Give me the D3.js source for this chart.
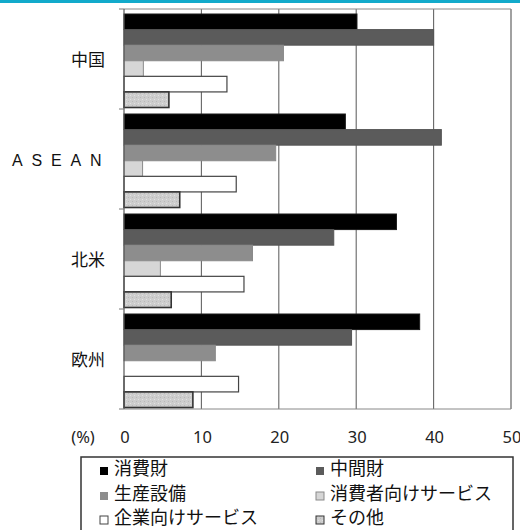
<!DOCTYPE html>
<html>
<head>
<meta charset="utf-8">
<script src="https://cdn.jsdelivr.net/npm/d3@7/dist/d3.min.js"></script>
<style>
  html, body { margin: 0; padding: 0; background: #fff; }
  svg { display: block; }
</style>
</head>
<body>
<svg id="chart" width="520" height="530"></svg>
<script>
// Regions shown on the vertical axis (top to bottom)
const regions = ["中国", "ASEAN", "北米", "欧州"];
// Series (goods / services categories), in bar order within each region
const seriesNames = ["消費財", "中間財", "生産設備", "消費者向けサービス", "企業向けサービス", "その他"];
// Shares (%) per series, one value per region in the order above
const consumerGoods    = [30.1, 28.6, 35.2, 38.2];
const intermediate     = [40.0, 41.0, 27.1, 29.4];
const capitalEquipment = [20.6, 19.6, 16.6, 11.8];
const consumerServices = [2.5, 2.4, 4.7, 0];
const businessServices = [13.3, 14.5, 15.5, 14.8];
const otherShare       = [5.8, 7.2, 6.1, 8.9];
const xTicks = [0, 10, 20, 30, 40, 50];

const seriesValues = [consumerGoods, intermediate, capitalEquipment, consumerServices, businessServices, otherShare];

const fills   = ["#000000", "#5b5b5b", "#8d8d8d", "#d6d6d6", "#ffffff", "url(#speckle)"];
const strokes = ["#1a1a1a", "#555555", "#8a8a8a", "#8a8a8a", "#444444", "#333333"];
const strokeW = [1, 1, 1, 1, 1.2, 1.6];

const svg = d3.select("#chart");

// speckled fill for the "other" bars
const defs = svg.append("defs");
const pat = defs.append("pattern").attr("id", "speckle")
  .attr("patternUnits", "userSpaceOnUse").attr("width", 4).attr("height", 4);
pat.append("rect").attr("width", 4).attr("height", 4).attr("fill", "#cdcdcd");
pat.append("rect").attr("x", 0).attr("y", 0).attr("width", 1).attr("height", 1).attr("fill", "#b8b8b8");
pat.append("rect").attr("x", 2).attr("y", 2).attr("width", 1).attr("height", 1).attr("fill", "#e2e2e2");

// top accent strip
svg.append("rect").attr("x", 0).attr("y", 0).attr("width", 520).attr("height", 3).attr("fill", "#12aacb");

const plot = { left: 124, right: 511, top: 9, bottom: 409 };

const x = d3.scaleLinear().domain([0, 50]).range([plot.left, plot.right]);
const y0 = d3.scaleBand().domain(regions).range([plot.top, plot.bottom]).padding(0);
const y1 = d3.scaleBand().domain(seriesNames)
  .range([y0.bandwidth() * 0.05, y0.bandwidth() * 0.985]).padding(0);

// vertical gridlines
svg.append("g").selectAll("line").data(xTicks.slice(1)).join("line")
  .attr("x1", d => x(d)).attr("x2", d => x(d))
  .attr("y1", plot.top).attr("y2", plot.bottom)
  .attr("stroke", (d) => d === 50 ? "#8a8a8a" : "#666")
  .attr("stroke-width", d => d === 50 ? 1.6 : 1.1);

// top and bottom frame lines
svg.append("line").attr("x1", plot.left).attr("x2", plot.right)
  .attr("y1", plot.top).attr("y2", plot.top).attr("stroke", "#888").attr("stroke-width", 1);
svg.append("line").attr("x1", plot.left).attr("x2", plot.right)
  .attr("y1", plot.bottom).attr("y2", plot.bottom).attr("stroke", "#888").attr("stroke-width", 1);

// bars
const groups = svg.append("g").selectAll("g").data(regions).join("g")
  .attr("transform", d => `translate(0,${y0(d)})`);

groups.selectAll("rect")
  .data((r, ri) => seriesNames.map((s, si) => ({ s, si, v: seriesValues[si][ri] })).filter(d => d.v > 0))
  .join("rect")
  .attr("x", x(0))
  .attr("y", d => y1(d.s))
  .attr("width", d => x(d.v) - x(0))
  .attr("height", y1.bandwidth())
  .attr("fill", d => fills[d.si])
  .attr("stroke", d => strokes[d.si])
  .attr("stroke-width", d => strokeW[d.si]);

// left axis with category boundary ticks
const yAxis = svg.append("g");
yAxis.append("line").attr("x1", plot.left).attr("x2", plot.left)
  .attr("y1", plot.top).attr("y2", plot.bottom).attr("stroke", "#555").attr("stroke-width", 1.2);
const bounds = regions.map(r => y0(r)).concat([plot.bottom]);
yAxis.selectAll("line.tk").data(bounds).join("line").attr("class", "tk")
  .attr("x1", plot.left - 5).attr("x2", plot.left)
  .attr("y1", d => d).attr("y2", d => d).attr("stroke", "#777");

// category labels
yAxis.selectAll("text.cat").data(regions).join("text").attr("class", "cat")
  .attr("y", d => y0(d) + y0.bandwidth() * 0.51)
  .attr("dy", "0.35em")
  .attr("font-size", 17)
  .attr("fill", "#111")
  .each(function (d) {
    const t = d3.select(this);
    if (d === "ASEAN") {
      t.attr("x", 12).attr("text-anchor", "start")
        .attr("font-family", "Liberation Sans, Arial, sans-serif")
        .attr("font-size", 16).attr("letter-spacing", 8.8).text(d);
    } else {
      t.attr("x", 105).attr("text-anchor", "end")
        .attr("font-family", "Noto Sans CJK JP, sans-serif").text(d);
    }
  });

// x tick labels
svg.append("g").selectAll("text").data(xTicks).join("text")
  .attr("x", d => x(d) + 1).attr("y", 437).attr("dy", "0.35em")
  .attr("text-anchor", "middle")
  .attr("font-family", "Noto Sans, sans-serif").attr("font-size", 16.5).attr("fill", "#222")
  .text(d => d);
svg.append("text").attr("x", 83).attr("y", 437).attr("dy", "0.35em")
  .attr("text-anchor", "middle")
  .attr("font-family", "Noto Sans, sans-serif").attr("font-size", 16.5).attr("fill", "#222")
  .text("(%)");

// legend
const legend = svg.append("g");
legend.append("rect").attr("x", 81).attr("y", 457).attr("width", 432).attr("height", 90)
  .attr("fill", "none").attr("stroke", "#333").attr("stroke-width", 1.5);

const legendCols = [100, 316];
const legendRows = [469, 494, 518];
const legendOrder = [0, 1, 2, 3, 4, 5];
const li = legend.selectAll("g.item").data(legendOrder).join("g").attr("class", "item")
  .attr("transform", (d, i) => `translate(${legendCols[i % 2]},${legendRows[Math.floor(i / 2)]})`);
li.append("rect").attr("x", 0).attr("y", -2).attr("width", 8).attr("height", 8)
  .attr("fill", d => fills[d])
  .attr("stroke", d => d >= 3 ? strokes[d] : "none")
  .attr("stroke-width", 1);
li.append("text").attr("x", 14).attr("y", 0).attr("dy", "0.35em")
  .attr("font-family", "Noto Sans CJK JP, sans-serif").attr("font-size", 18).attr("fill", "#111")
  .text(d => seriesNames[d]);
</script>
</body>
</html>
